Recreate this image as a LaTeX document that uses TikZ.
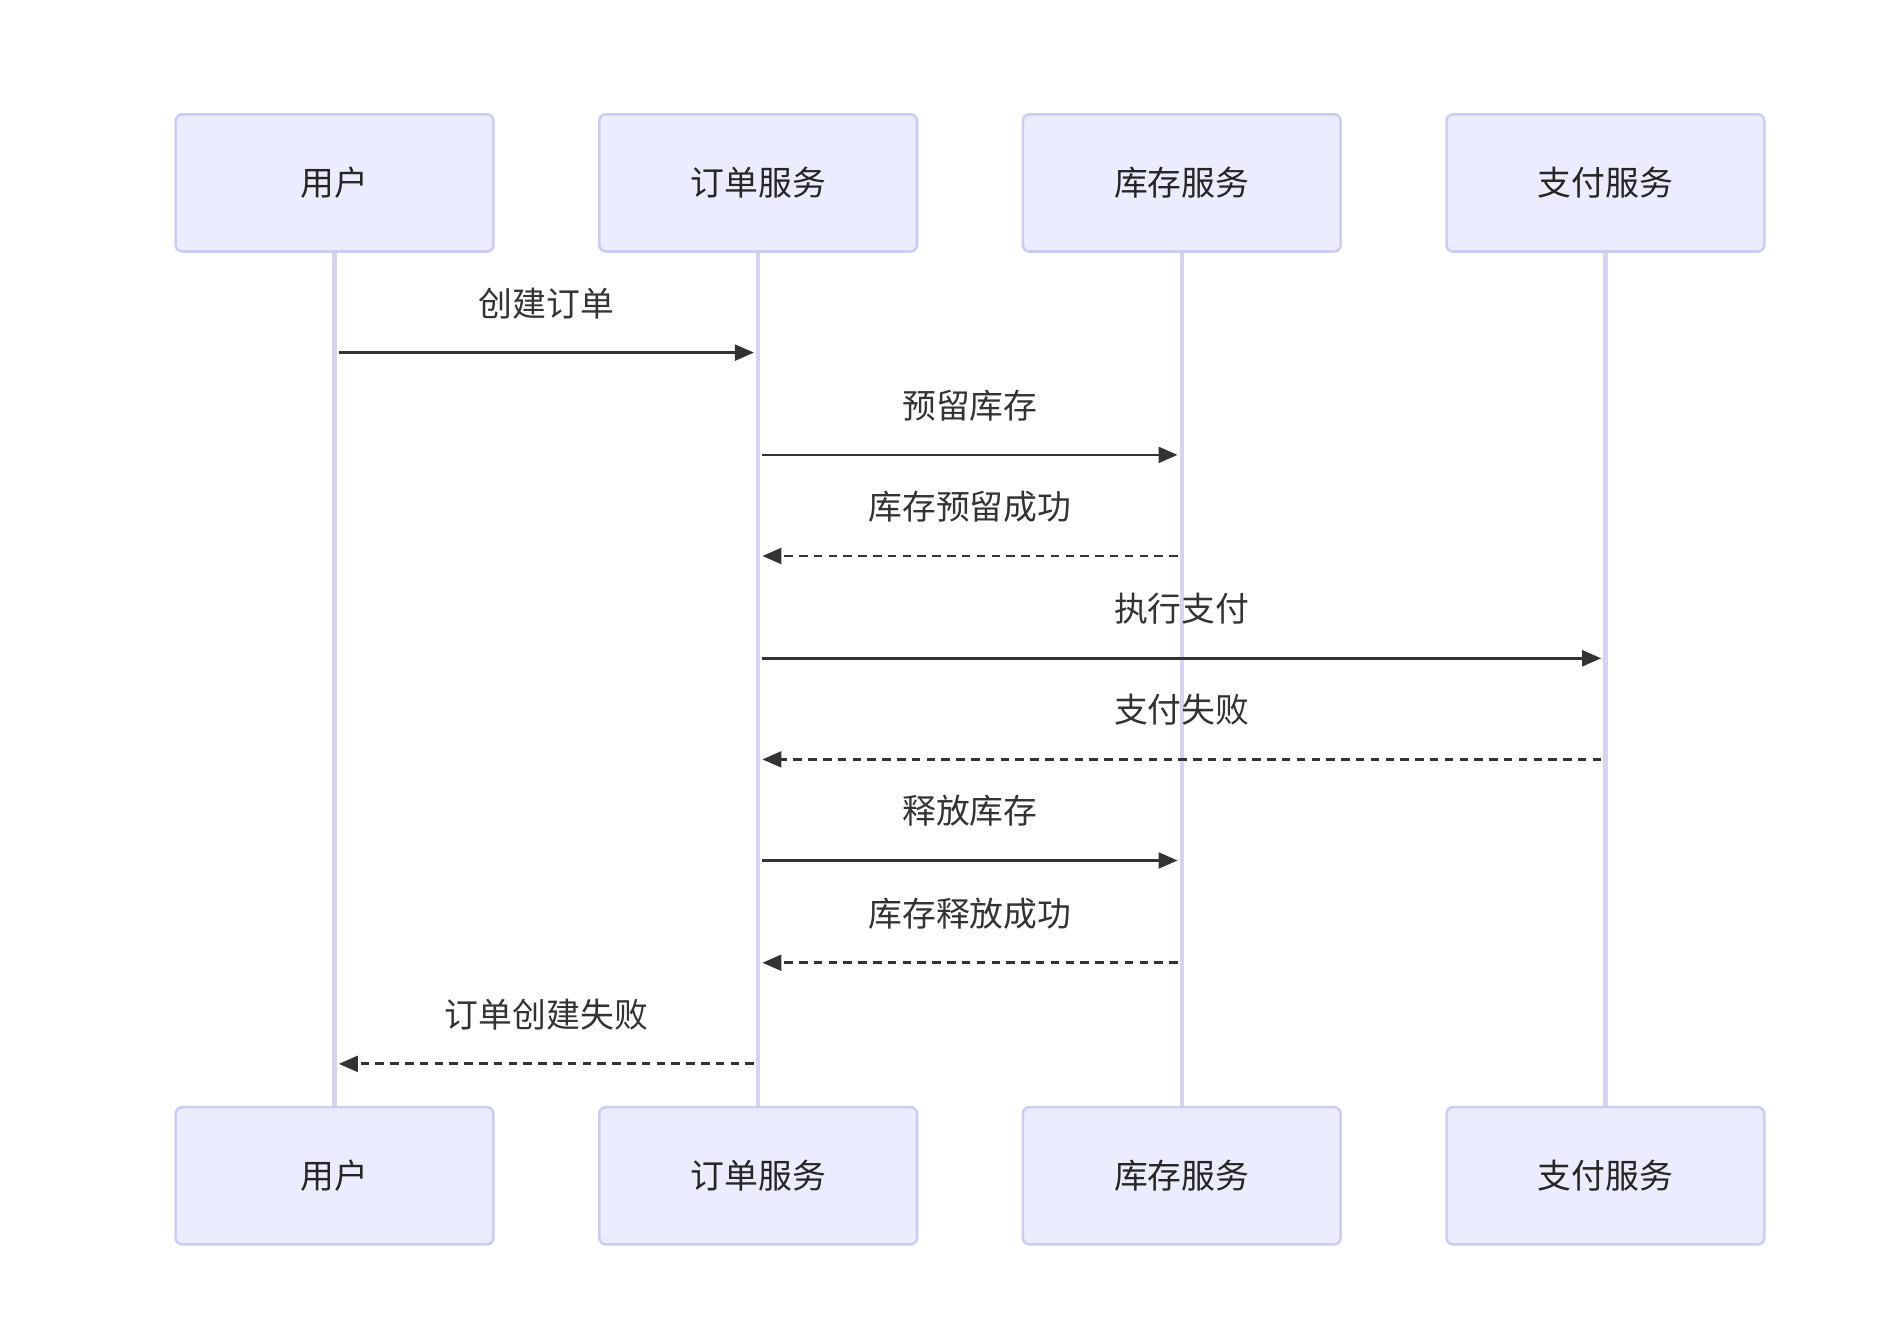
\documentclass[tikz,border=0pt]{standalone}
\usepackage{fontspec}
\setmainfont{Noto Sans CJK SC}
\usetikzlibrary{arrows.meta}
\definecolor{actfill}{HTML}{ECECFF}
\definecolor{actline}{HTML}{CCCCF5}
\definecolor{life}{HTML}{D9D2F2}
\definecolor{msg}{HTML}{333333}
\begin{document}
\begin{tikzpicture}[x=0.02cm,y=-0.02cm,
  actor/.style={draw=actline,line width=1.2pt,fill=actfill,rounded corners=3pt,minimum width=5.28cm,minimum height=2.28cm,font=\fontsize{16pt}{18pt}\selectfont,text=black!85},
  lifeline/.style={draw=life,line width=2pt},
  lbl/.style={font=\fontsize{16pt}{18pt}\selectfont,text=black!80},
  m/.style={draw=msg,line width=1.3pt,-{Triangle[length=9pt,width=7.5pt]}},
  r/.style={m,dash pattern=on 4pt off 3pt}]
\useasboundingbox (0,0) rectangle (1568,1116);
\foreach \n/\x/\t in {u/278/用户,o/630/订单服务,s/982/库存服务,p/1334/支付服务}{
  \node[actor] (\n t) at (\x,152) {\t};
  \node[actor] (\n b) at (\x,977) {\t};
  \draw[lifeline] (\n t.south) -- (\n b.north);
}
\foreach \i/\y in {1/293,2/378,3/462,4/547,5/631,6/715,7/800,8/884}{
  \foreach \n/\x in {u/278,o/630,s/982,p/1334}{
    \coordinate (\n\i) at (\x,\y);
  }
}
\draw[m] ([xshift=2]u1) -- ([xshift=-2]o1) node[lbl,midway,above=12pt] {创建订单};
\draw[m] ([xshift=2]o2) -- ([xshift=-2]s2) node[lbl,midway,above=12pt] {预留库存};
\draw[r] ([xshift=-2]s3) -- ([xshift=2]o3) node[lbl,midway,above=12pt] {库存预留成功};
\draw[m] ([xshift=2]o4) -- ([xshift=-2]p4) node[lbl,midway,above=12pt] {执行支付};
\draw[r] ([xshift=-2]p5) -- ([xshift=2]o5) node[lbl,midway,above=12pt] {支付失败};
\draw[m] ([xshift=2]o6) -- ([xshift=-2]s6) node[lbl,midway,above=12pt] {释放库存};
\draw[r] ([xshift=-2]s7) -- ([xshift=2]o7) node[lbl,midway,above=12pt] {库存释放成功};
\draw[r] ([xshift=-2]o8) -- ([xshift=2]u8) node[lbl,midway,above=12pt] {订单创建失败};
\end{tikzpicture}
\end{document}
